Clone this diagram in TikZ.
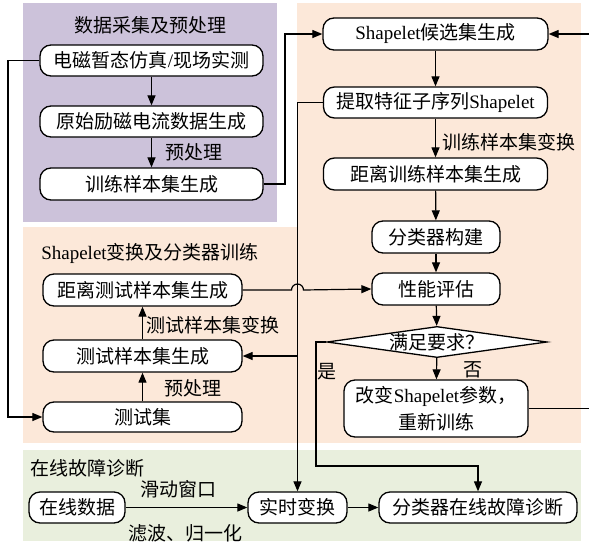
\documentclass[tikz,border=0pt]{standalone}
\usepackage{fontspec}
\setmainfont{Liberation Serif}
\newfontfamily\cjk{Noto Sans CJK SC}
\usetikzlibrary{arrows.meta,shapes.geometric}
\newcommand\zh[1]{{\cjk #1}}
\definecolor{purplebg}{RGB}{204,194,218}
\definecolor{orangebg}{RGB}{252,232,217}
\definecolor{greenbg}{RGB}{233,239,221}
\begin{document}
\begin{tikzpicture}[x=1pt,y=-1pt,
 box/.style={draw,line width=1.3pt,rounded corners=11pt,fill=white,inner sep=0pt,align=center,font=\fontsize{19}{27}\selectfont},
 dia/.style={draw,line width=1.3pt,diamond,aspect=7,fill=white,inner sep=0pt,minimum width=220pt,minimum height=30pt,font=\fontsize{19}{22}\selectfont},
 lbl/.style={inner sep=0pt,font=\fontsize{19}{22}\selectfont},
 arr/.style={line width=1.2pt,-{Triangle[length=10pt,width=8pt]}}]
\useasboundingbox (0,0) rectangle (589,544);
% backgrounds
\fill[purplebg] (23,3) rectangle (277,222);
\fill[orangebg] (297,3) rectangle (581,229);
\fill[orangebg] (23,227) rectangle (581,443);
\fill[greenbg] (23,450) rectangle (581,541);
% titles
\node[lbl] (T1) at (150,25) {\zh{数据采集及预处理}};
\node[lbl] (T2) at (150,253) {Shapelet\zh{变换及分类器训练}};
\node[lbl,anchor=west] (T3) at (30,468) {\zh{在线故障诊断}};
% data section
\node[box,minimum width=223pt,minimum height=31pt] (n1) at (151.5,60.5) {\zh{电磁暂态仿真}/\zh{现场实测}};
\node[box,minimum width=223pt,minimum height=31pt] (n2) at (151.5,121.5) {\zh{原始励磁电流数据生成}};
\node[box,minimum width=223pt,minimum height=32pt] (n3) at (151.5,184) {\zh{训练样本集生成}};
% training
\node[box,minimum width=225pt,minimum height=32pt] (c1) at (435.5,34) {Shapelet\zh{候选集生成}};
\node[box,minimum width=224pt,minimum height=31pt] (c2) at (435.5,102.5) {\zh{提取特征子序列}Shapelet};
\node[box,minimum width=224pt,minimum height=32pt] (c3) at (435.5,174) {\zh{距离训练样本集生成}};
\node[box,minimum width=128pt,minimum height=32pt] (c4) at (436,237) {\zh{分类器构建}};
\node[box,minimum width=128pt,minimum height=32pt] (c5) at (436,289) {\zh{性能评估}};
\node[dia] (d) at (437,342) {\zh{满足要求？}};
\node[box,minimum width=184pt,minimum height=57pt] (c6) at (436,408.5) {\zh{改变}Shapelet\zh{参数，}\\\zh{重新训练}};
% test
\node[box,minimum width=199pt,minimum height=32pt] (t1) at (142.5,290) {\zh{距离测试样本集生成}};
\node[box,minimum width=199pt,minimum height=32pt] (t2) at (142.5,356) {\zh{测试样本集生成}};
\node[box,minimum width=199pt,minimum height=30pt] (t3) at (142.5,417) {\zh{测试集}};
% online
\node[box,minimum width=96pt,minimum height=31pt] (o1) at (77,507.5) {\zh{在线数据}};
\node[box,minimum width=99pt,minimum height=31pt] (o2) at (297.5,507.5) {\zh{实时变换}};
\node[box,minimum width=198pt,minimum height=31pt] (o3) at (478,507.5) {\zh{分类器在线故障诊断}};
% labels
\node[lbl,anchor=west] (L1) at (165,152) {\zh{预处理}};
\node[lbl,anchor=west] (L2) at (442,142) {\zh{训练样本集变换}};
\node[lbl,anchor=west] (L3) at (146,325) {\zh{测试样本集变换}};
\node[lbl,anchor=west] (L4) at (164,388) {\zh{预处理}};
\node[lbl] (L5) at (327,372) {\zh{是}};
\node[lbl] (L6) at (473,370) {\zh{否}};
\node[lbl] (L7) at (178,489) {\zh{滑动窗口}};
\node[lbl] (L8) at (185,533) {\zh{滤波、归一化}};
% connectors
\draw[arr] (n1) -- (n2);
\draw[arr] (n2) -- (n3);
\draw[arr] (n1.west) -- (8,60.5) |- (t3.west);
\draw[arr] (n3.east) -- (285,184) |- (c1.west);
\draw[arr] (c1) -- (c2);
\draw[arr] (c2) -- (c3);
\draw[arr] (c3) -- (c4);
\draw[arr] (c4) -- (c5);
\draw[arr] (c5) -- (d);
\draw[arr] (d) -- (c6);
\draw[arr] (c2.west) -| (o2.north);
\draw[arr] (t2.east -| o2.north) -- (t2.east);
\draw[arr] (t1.east) -- (291.5,290) arc[start angle=180,end angle=0,radius=6pt] -- (c5.west);
\draw[arr] (d.west) -- (316,342) -- (316,466) -| (o3.north);
\draw[arr] (c6.east) -- (592,408.5) |- (c1.east);
\draw[arr] (t3) -- (t2);
\draw[arr] (t2) -- (t1);
\draw[arr] (o1) -- (o2);
\draw[arr] (o2) -- (o3);
\end{tikzpicture}
\end{document}
